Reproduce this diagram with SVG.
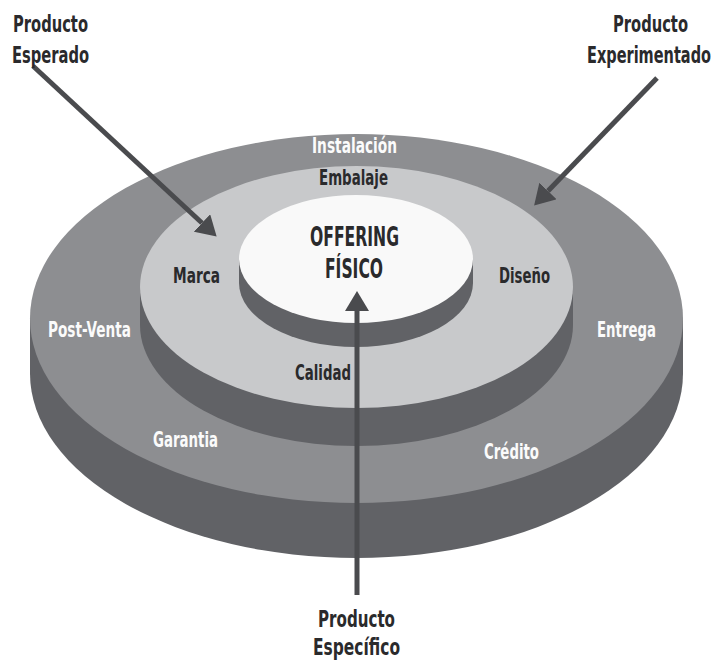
<svg xmlns="http://www.w3.org/2000/svg" width="720" height="662" viewBox="0 0 720 662">
  <style>
    text { font-family: "Liberation Sans Narrow", "DejaVu Sans Condensed", "Roboto Condensed", "Liberation Sans", sans-serif; font-weight: bold; }
    .dark { fill: #2a2a2c; }
    .light { fill: #fbfbfb; }
    .title { font-size: 23px; }
    .ring { font-size: 20.5px; }
    .core { font-size: 26.5px; }
    .side { fill: #616266; }
    .arrow { stroke: #4a4b4e; stroke-width: 5; fill: none; marker-end: url(#head); }
  </style>
  <defs>
    <marker id="head" markerUnits="userSpaceOnUse" viewBox="0 0 20 24" markerWidth="20" markerHeight="24" refX="0" refY="12" orient="auto">
      <path d="M0,0 L20,12 L0,24 Z" fill="#4a4b4e"/>
    </marker>
  </defs>

  <rect width="720" height="662" fill="#ffffff"/>

  <!-- outer ring: experienced product -->
  <g id="disk-outer">
    <path class="side" d="M30,318.5 V373.5 A326.5,184.5 0 0 0 683,373.5 V318.5 Z"/>
    <ellipse cx="356.5" cy="318.5" rx="326.5" ry="184.5" fill="#8d8e91"/>
    <text class="ring light" x="312" y="153" textLength="85" lengthAdjust="spacingAndGlyphs">Instalación</text>
    <text class="ring light" x="48" y="337" textLength="83" lengthAdjust="spacingAndGlyphs">Post-Venta</text>
    <text class="ring light" x="597" y="337" textLength="59" lengthAdjust="spacingAndGlyphs">Entrega</text>
    <text class="ring light" x="153" y="447" textLength="65" lengthAdjust="spacingAndGlyphs">Garantia</text>
    <text class="ring light" x="484" y="459" textLength="55" lengthAdjust="spacingAndGlyphs">Crédito</text>
  </g>

  <!-- middle ring: expected product -->
  <g id="disk-middle">
    <path class="side" d="M140,287 V325 A216.5,121 0 0 0 573,325 V287 Z"/>
    <ellipse cx="356.5" cy="287" rx="216.5" ry="121" fill="#c8c9cb"/>
    <text class="ring dark" x="319" y="185" textLength="69" lengthAdjust="spacingAndGlyphs">Embalaje</text>
    <text class="ring dark" x="173" y="283" textLength="47" lengthAdjust="spacingAndGlyphs">Marca</text>
    <text class="ring dark" x="499" y="283" textLength="51" lengthAdjust="spacingAndGlyphs">Diseño</text>
    <text class="ring dark" x="295" y="380" textLength="56" lengthAdjust="spacingAndGlyphs">Calidad</text>
  </g>

  <!-- core: physical offering -->
  <g id="disk-inner">
    <path class="side" d="M239,259 V283 A117,64 0 0 0 473,283 V259 Z"/>
    <ellipse cx="356" cy="259" rx="117" ry="64" fill="#f9f9f9"/>
    <text class="core dark" x="310" y="246" textLength="89" lengthAdjust="spacingAndGlyphs">OFFERING</text>
    <text class="core dark" x="325" y="278" textLength="58" lengthAdjust="spacingAndGlyphs">FÍSICO</text>
  </g>

  <!-- arrows -->
  <g id="connectors">
    <path class="arrow" d="M33,66 L202,223"/>
    <path class="arrow" d="M657,78 L548,191"/>
    <path class="arrow" d="M357,595 L357,311"/>
  </g>

  <g id="label-esperado">
    <text class="title dark" x="13" y="32" textLength="75" lengthAdjust="spacingAndGlyphs">Producto</text>
    <text class="title dark" x="12" y="63" textLength="77" lengthAdjust="spacingAndGlyphs">Esperado</text>
  </g>
  <g id="label-experimentado">
    <text class="title dark" x="613" y="32" textLength="75" lengthAdjust="spacingAndGlyphs">Producto</text>
    <text class="title dark" x="587" y="63" textLength="124" lengthAdjust="spacingAndGlyphs">Experimentado</text>
  </g>
  <g id="label-especifico">
    <text class="title dark" x="318" y="627" textLength="77" lengthAdjust="spacingAndGlyphs">Producto</text>
    <text class="title dark" x="313" y="655" textLength="87" lengthAdjust="spacingAndGlyphs">Específico</text>
  </g>
</svg>
